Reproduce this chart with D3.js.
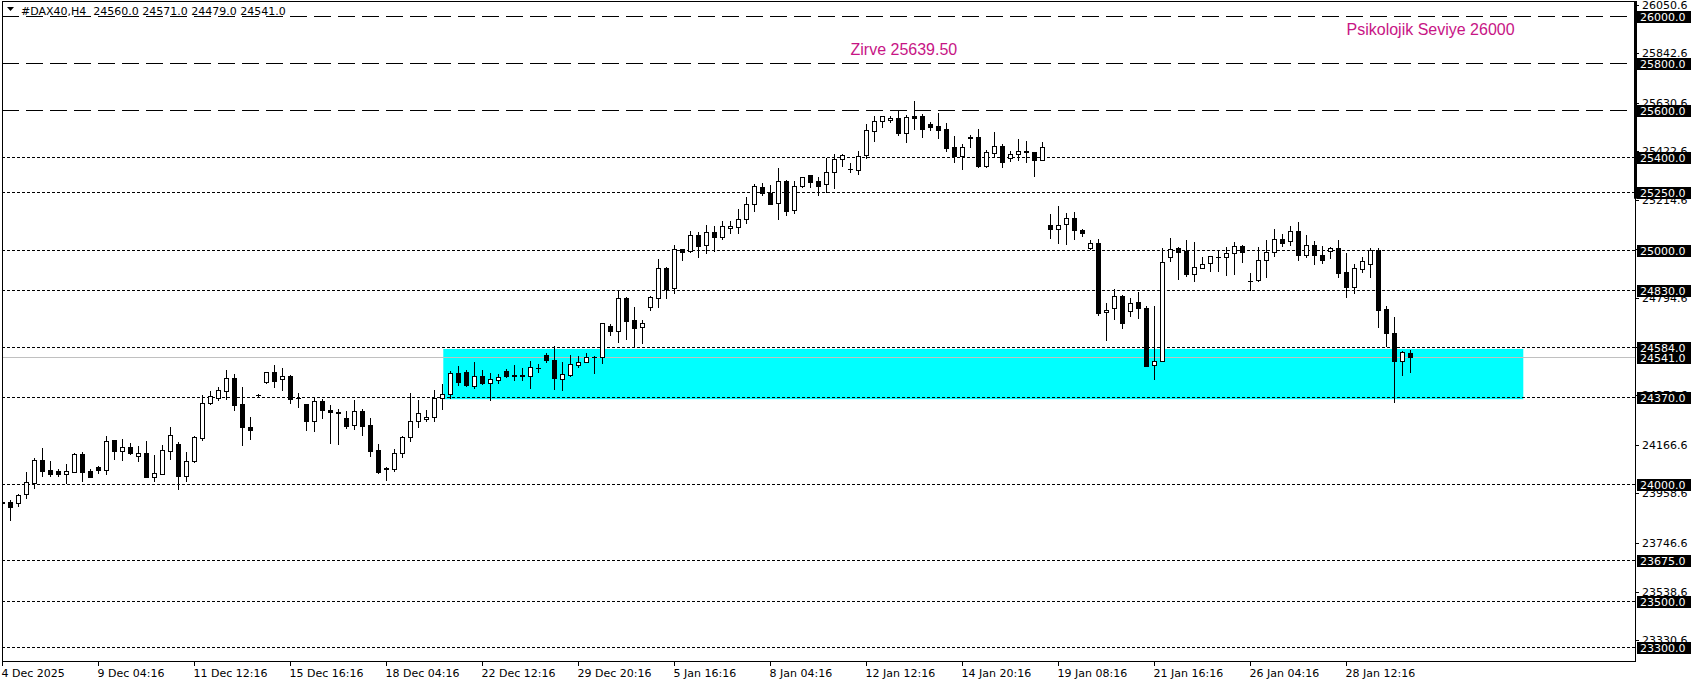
<!DOCTYPE html>
<html><head><meta charset="utf-8">
<script src="https://cdn.jsdelivr.net/npm/d3@7"></script>
<style>html,body{margin:0;padding:0;background:#fff;overflow:hidden}</style>
</head><body>
<svg id="c" width="1699" height="684" xmlns="http://www.w3.org/2000/svg"></svg>
<script>
// ---- DATA (H4 candles, #DAX40) ----
const opens = [23921,23920,23916,23955,24005,24102,24059,24055,24040,24052,24127,24053,24072,24057,24187,24139,24156,24117,24132,24030,
24042,24142,24170,24035,24096,24197,24347,24366,24398,24451,24341,24242,24380,24437,24477,24447,24461,24368,24341,24267,
24354,24316,24309,24281,24250,24311,24250,24143,24069,24062,24130,24199,24269,24276,24284,24367,24383,24473,24478,24420,
24460,24433,24446,24483,24463,24463,24463,24497,24551,24530,24448,24467,24510,24523,24543,24541,24675,24655,24795,24700,
24670,24758,24794,24922,24837,25003,24995,25063,25020,25076,25058,25093,25101,25132,25196,25269,25246,25200,25296,25170,
25274,25320,25296,25282,25333,25389,25346,25344,25406,25511,25551,25556,25566,25503,25574,25574,25540,25531,25518,25441,
25401,25483,25484,25361,25417,25446,25396,25410,25424,25420,25386,25108,25089,25110,25136,25085,25008,25029,24734,24751,
24805,24738,24777,24751,24508,24527,24972,25011,24998,24899,24925,24944,24969,24969,24986,25016,24867,24871,24956,24991,
25046,25038,25080,24978,25021,24978,24996,25008,24906,24844,24921,24939,24999,24748,24644,24527,24560];
const highs = [23952,23930,23956,24049,24112,24154,24097,24063,24085,24133,24136,24062,24076,24204,24189,24192,24174,24162,24183,24123,
24166,24243,24179,24136,24203,24380,24396,24416,24487,24471,24414,24286,24384,24480,24510,24497,24466,24390,24343,24370,
24363,24337,24321,24310,24358,24320,24281,24169,24073,24147,24204,24387,24358,24314,24400,24427,24481,24504,24487,24521,
24487,24474,24470,24491,24508,24496,24525,24513,24558,24590,24521,24551,24547,24558,24546,24690,24684,24829,24801,24758,
24701,24804,24962,24926,25022,25005,25082,25076,25107,25103,25124,25124,25176,25229,25282,25287,25279,25352,25300,25296,
25314,25323,25314,25396,25411,25413,25371,25424,25541,25576,25576,25575,25597,25580,25639.5,25583,25548,25587,25544,25489,
25453,25493,25517,25429,25506,25454,25426,25474,25467,25422,25463,25155,25189,25158,25162,25091,25042,25046,24772,24832,
24807,24794,24821,24759,24761,25008,25050,25013,25043,25033,24969,24975,25001,25015,25035,25022,24902,25013,25042,25091,
25068,25103,25119,25063,25038,25018,25012,25042,24988,24939,24972,25011,25008,24761,24712,24570,24571];
const lows = [23880,23845,23906,23938,23980,24035,24035,24035,24005,24049,24013,24028,24048,24042,24106,24102,24127,24099,24028,24013,
24040,24106,23979,24013,24094,24187,24343,24359,24363,24316,24167,24193,24377,24433,24413,24401,24344,24327,24230,24227,
24280,24176,24172,24239,24236,24210,24117,24046,24016,24053,24113,24182,24241,24267,24270,24319,24366,24424,24419,24411,
24426,24360,24433,24458,24443,24444,24410,24480,24521,24407,24403,24463,24501,24520,24476,24518,24638,24608,24621,24584,
24604,24744,24758,24794,24818,24958,24993,24972,24989,24998,25049,25075,25075,25118,25168,25237,25197,25135,25152,25160,
25270,25272,25236,25247,25266,25362,25334,25326,25393,25467,25528,25548,25493,25463,25520,25486,25514,25480,25426,25377,
25347,25443,25357,25356,25400,25357,25383,25386,25379,25317,25384,25053,25032,25025,25048,25061,25003,24721,24615,24704,
24668,24720,24708,24504,24450,24525,24955,24878,24889,24869,24922,24912,24912,24895,24899,24951,24829,24866,24886,24975,
25018,25023,24958,24972,24942,24946,24968,24884,24801,24818,24908,24886,24672,24590,24351,24467,24479];
const closes = [23917,23902,23952,24006,24102,24056,24042,24043,24053,24127,24052,24030,24057,24182,24142,24156,24133,24132,24030,24045,
24144,24207,24035,24096,24200,24346,24374,24401,24451,24339,24244,24232,24381,24477,24441,24460,24364,24365,24267,24354,
24314,24306,24301,24249,24311,24249,24142,24052,24063,24130,24199,24267,24301,24284,24367,24383,24473,24437,24424,24460,
24431,24447,24456,24463,24465,24465,24498,24495,24530,24454,24470,24513,24521,24543,24544,24687,24655,24794,24698,24667,
24687,24798,24922,24835,25003,24993,25063,25019,25076,25058,25102,25102,25132,25196,25273,25243,25199,25296,25169,25273,
25312,25293,25276,25334,25389,25409,25348,25404,25513,25553,25574,25566,25503,25571,25567,25520,25528,25516,25438,25401,
25441,25478,25361,25420,25446,25379,25410,25424,25419,25387,25440,25089,25108,25136,25085,25072,25029,24732,24745,24805,
24690,24775,24751,24506,24527,24948,25006,24993,24899,24926,24939,24973,24970,24986,25016,24991,24869,24956,24991,25046,
25032,25080,24978,25021,24978,24959,25008,24904,24844,24922,24952,24999,24745,24647,24527,24565,24541];

const timeLabels = ["4 Dec 2025","9 Dec 04:16","11 Dec 12:16","15 Dec 16:16","18 Dec 04:16","22 Dec 12:16","29 Dec 20:16",
"5 Jan 16:16","8 Jan 04:16","12 Jan 12:16","14 Jan 20:16","19 Jan 08:16","21 Jan 16:16","26 Jan 04:16","28 Jan 12:16"];
const timeLabelBars = [0,12,24,36,48,60,72,84,96,108,120,132,144,156,168];

const priceTicks = [26050.6,25842.6,25630.6,25422.6,25214.6,25006.6,24794.6,24586.6,24378.6,24166.6,23958.6,23746.6,23538.6,23330.6];
const longDashLevels = [26000,25800,25600];
const dotLevels = [25400,25250,25000,24830,24584,24370,24000,23675,23500,23300];
const bidPrice = 24541;
const zoneBars = [55.1, 190.1];
const zonePrices = [24577, 24362];
const headerText = "#DAX40,H4  24560.0 24571.0 24479.0 24541.0";
const notes = [
  {text:"Zirve 25639.50", bar:106, price:25835},
  {text:"Psikolojik Seviye 26000", bar:168, price:25920}
];

// ---- CHART ----
const W=1699, H=684;
const L=2, R=1635, T=1, B=661;
const svg=d3.select("#c");
svg.append("rect").attr("width",W).attr("height",H).attr("fill","#fff");

const x=d3.scaleLinear().domain([0,176]).range([2.5,1410.5]);
const y=d3.scaleLinear().domain([23241.5,26066.3]).range([B,T]);
const cy=p=>Math.round(y(p))+0.5;

svg.append("clipPath").attr("id","plot").append("rect").attr("x",L).attr("y",T).attr("width",R-L).attr("height",B-T);
const g=svg.append("g").attr("clip-path","url(#plot)");

// zone rectangle
g.append("rect").attr("x",x(zoneBars[0])).attr("y",y(zonePrices[0]))
 .attr("width",x(zoneBars[1])-x(zoneBars[0])).attr("height",y(zonePrices[1])-y(zonePrices[0]))
 .attr("fill","#00ffff");

// bid line
g.append("line").attr("x1",L).attr("x2",R).attr("y1",cy(bidPrice)).attr("y2",cy(bidPrice))
 .attr("stroke","#c0c0c0").attr("stroke-width",1);

// level lines
g.selectAll("line.ld").data(longDashLevels).join("line").attr("class","ld")
 .attr("x1",L).attr("x2",R).attr("y1",cy).attr("y2",cy)
 .attr("stroke","#000").attr("stroke-width",1).attr("stroke-dasharray","17,7");
g.selectAll("line.dt").data(dotLevels).join("line").attr("class","dt")
 .attr("x1",L).attr("x2",R).attr("y1",cy).attr("y2",cy)
 .attr("stroke","#000").attr("stroke-width",1).attr("stroke-dasharray","3,2");

// candles
const idx=d3.range(opens.length);
const cg=g.append("g");
cg.selectAll("line.w").data(idx).join("line").attr("class","w")
 .attr("x1",i=>x(i)).attr("x2",i=>x(i))
 .attr("y1",i=>Math.round(y(highs[i]))).attr("y2",i=>Math.round(y(lows[i]))+1)
 .attr("stroke","#000").attr("stroke-width",1);
idx.forEach(i=>{
  const o=opens[i], c=closes[i];
  const top=cy(Math.max(o,c)), bot=cy(Math.min(o,c));
  const bull=c>=o;
  if(bot-top<1){
    cg.append("line").attr("x1",x(i)-2.5).attr("x2",x(i)+2.5).attr("y1",top).attr("y2",top)
      .attr("stroke","#000").attr("stroke-width",1);
  } else {
    cg.append("rect").attr("x",x(i)-2).attr("y",top).attr("width",4).attr("height",bot-top)
      .attr("fill",bull?"#fff":"#000").attr("stroke","#000").attr("stroke-width",1);
  }
});

// frame
svg.append("rect").attr("x",L+0.5).attr("y",T+0.5).attr("width",R-L).attr("height",B-T)
 .attr("fill","none").attr("stroke","#000").attr("stroke-width",1);

// header
svg.append("path").attr("d","M7,7 L14,7 L10.5,11 Z").attr("fill","#000");
svg.append("text").attr("x",21).attr("y",15).text(headerText)
 .attr("font-family","DejaVu Sans").attr("font-size",11).attr("fill","#000").style("white-space","pre");

// price axis ticks
const font="DejaVu Sans";
const ax=svg.append("g");
ax.selectAll("line.pt").data(priceTicks).join("line").attr("class","pt")
 .attr("x1",R).attr("x2",R+4).attr("y1",cy).attr("y2",cy).attr("stroke","#000");
ax.selectAll("text.pt").data(priceTicks).join("text").attr("class","pt")
 .attr("x",R+7).attr("y",p=>y(p)+4).text(p=>p.toFixed(1))
 .attr("font-family",font).attr("font-size",11).attr("fill","#000");

// boxed level labels
const boxed=[...longDashLevels,...dotLevels.slice(0,5),bidPrice,...dotLevels.slice(5)];
const bx=ax.selectAll("g.bx").data(boxed).join("g").attr("class","bx");
bx.append("rect").attr("x",R+2).attr("y",p=>Math.round(y(p))-5).attr("width",54).attr("height",12).attr("fill","#000");
bx.append("text").attr("x",R+5).attr("y",p=>Math.round(y(p))+5).text(p=>p.toFixed(1))
 .attr("font-family",font).attr("font-size",11).attr("fill","#fff");

// thick axis segment
svg.append("rect").attr("x",R-1).attr("y",T).attr("width",3).attr("height",y(25250)-T+7).attr("fill","#000");

// time axis
const tx=svg.append("g");
tx.selectAll("line").data(timeLabelBars).join("line")
 .attr("x1",i=>x(i)).attr("x2",i=>x(i)).attr("y1",B).attr("y2",B+5).attr("stroke","#000");
tx.selectAll("text").data(timeLabelBars).join("text")
 .attr("x",i=>x(i)-1).attr("y",677).text((i,k)=>timeLabels[k])
 .attr("font-family",font).attr("font-size",11).attr("fill","#000");

// annotations
svg.selectAll("text.note").data(notes).join("text").attr("class","note")
 .attr("x",d=>x(d.bar)).attr("y",d=>y(d.price)).text(d=>d.text)
 .attr("font-family","Liberation Sans, Arial").attr("font-size",16).attr("fill","#C71585");
</script>
</body></html>
